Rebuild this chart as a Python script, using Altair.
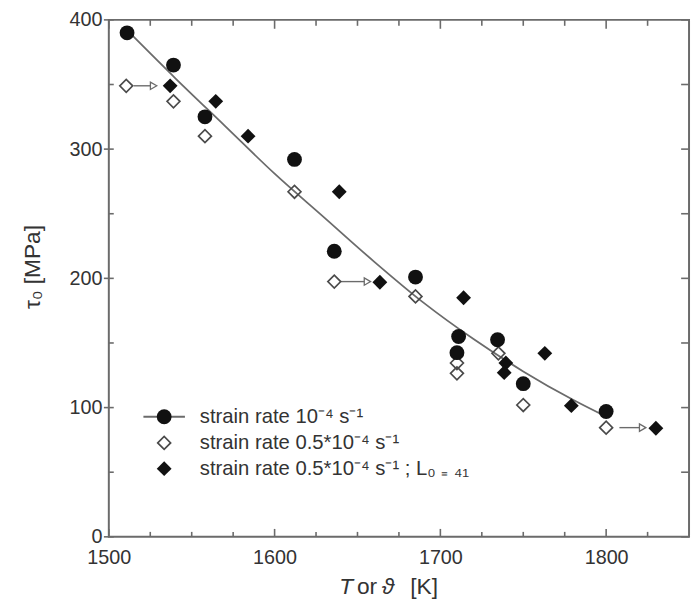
import altair as alt
import pandas as pd

# ---- data ----
circ_T = [1511, 1539, 1558, 1612, 1636, 1685, 1711, 1710, 1734.5, 1750, 1800]
circ_tau = [390, 365, 325, 292, 221, 201, 155, 142.5, 152.5, 118.5, 97]

open_T = [1510.5, 1539, 1558, 1612, 1636, 1685, 1710, 1710, 1735, 1750, 1800]
open_tau = [349, 337, 310, 267, 197.5, 186, 134.5, 126.5, 142, 102, 84.5]

fill_T = [1537, 1564.5, 1584, 1639, 1663.5, 1714, 1739.5, 1738.5, 1763, 1779, 1830]
fill_tau = [349, 337, 310, 267, 197, 185, 134.5, 127, 142, 101.5, 84]

arrow_from_T = [1515, 1640, 1808]
arrow_to_T = [1527, 1656, 1822]
arrow_tau = [349, 197.5, 84.5]

fit_T = [1511, 1540, 1570, 1600, 1630, 1660, 1690, 1720, 1750, 1780, 1800]
fit_tau = [392, 355, 318, 281, 247, 213, 181, 153, 128, 106, 93]

x_major = [1500, 1600, 1700, 1800]
x_minor = [1525, 1550, 1575, 1625, 1650, 1675, 1725, 1750, 1775, 1825]
y_major = [0, 100, 200, 300, 400]
y_minor = [50, 150, 250, 350]

leg_labels = [
    "strain rate 10\u207b\u2074   s\u207b\u00b9",
    "strain rate 0.5*10\u207b\u2074 s\u207b\u00b9",
    "strain rate 0.5*10\u207b\u2074 s\u207b\u00b9 ; L\u2080 \u208c \u2084\u2081",
]

# ---- styling ----
W, H = 587, 523
FONT = "Liberation Sans"
TXT = "#333333"
GRAY = "#6b6b6b"
DARK = "#111111"

xs = alt.Scale(domain=[1500, 1850], nice=False, zero=False)
ys = alt.Scale(domain=[0, 400], nice=False, zero=False)

x_axis = alt.Axis(values=x_major, format="d", title=None, grid=False, ticks=False, domain=False,
                  tickSize=0, labelFontSize=20, labelFont=FONT, labelColor=TXT, labelPadding=11,
                  labelFlush=False, labelOverlap=False)
y_axis = alt.Axis(values=y_major, format="d", title=None, grid=False, ticks=False, domain=False,
                  tickSize=0, labelFontSize=20, labelFont=FONT, labelColor=TXT, labelPadding=7,
                  labelFlush=False, labelOverlap=False)


def X(field):
    return alt.X(f"{field}:Q", scale=xs, axis=x_axis)


def Y(field):
    return alt.Y(f"{field}:Q", scale=ys, axis=y_axis)


fit_df = pd.DataFrame({"T": fit_T, "tau": fit_tau})
circ_df = pd.DataFrame({"T": circ_T, "tau": circ_tau})
open_df = pd.DataFrame({"T": open_T, "tau": open_tau})
fill_df = pd.DataFrame({"T": fill_T, "tau": fill_tau})
arr_df = pd.DataFrame({"T": arrow_from_T, "T1": arrow_to_T, "tau": arrow_tau})

fit = alt.Chart(fit_df).mark_line(color=GRAY, strokeWidth=1.8, interpolate="monotone").encode(
    x=X("T"), y=Y("tau"))

arr_line = alt.Chart(arr_df).mark_rule(color=GRAY, strokeWidth=1.4).encode(
    x=X("T"), x2="T1:Q", y=Y("tau"))
arr_head = alt.Chart(arr_df).mark_point(shape="triangle-right", filled=True, fill="white",
                                        stroke=GRAY, strokeWidth=1.3, size=55, opacity=1).encode(
    x=X("T1"), y=Y("tau"))

opn = alt.Chart(open_df).mark_point(shape="diamond", filled=False, color="#4a4a4a",
                                    strokeWidth=1.7, size=170, opacity=1).encode(
    x=X("T"), y=Y("tau"))
fil = alt.Chart(fill_df).mark_point(shape="diamond", filled=True, color=DARK,
                                    size=225, opacity=1).encode(
    x=X("T"), y=Y("tau"))
circ = alt.Chart(circ_df).mark_point(shape="circle", filled=True, color=DARK,
                                     size=225, opacity=1).encode(
    x=X("T"), y=Y("tau"))

# ---- frame ticks ----
xmaj_df = pd.DataFrame({"v": x_major})
xmin_df = pd.DataFrame({"v": x_minor})
ymaj_df = pd.DataFrame({"v": y_major})
ymin_df = pd.DataFrame({"v": y_minor})
tick_layers = []
for df, ln in [(xmaj_df, 8), (xmin_df, 5)]:
    tick_layers.append(alt.Chart(df).mark_rule(color=GRAY, strokeWidth=1.6).encode(
        x=X("v"), y=alt.value(H), y2=alt.value(H - ln)))
    tick_layers.append(alt.Chart(df).mark_rule(color=GRAY, strokeWidth=1.6).encode(
        x=X("v"), y=alt.value(0), y2=alt.value(ln + 1)))
tick_layers.append(alt.Chart(ymaj_df).mark_rule(color=GRAY, strokeWidth=1.6).encode(
    y=Y("v"), x=alt.value(-5), x2=alt.value(5)))
tick_layers.append(alt.Chart(ymin_df).mark_rule(color=GRAY, strokeWidth=1.6).encode(
    y=Y("v"), x=alt.value(0), x2=alt.value(5)))
tick_layers.append(alt.Chart(ymaj_df).mark_rule(color=GRAY, strokeWidth=1.6).encode(
    y=Y("v"), x=alt.value(W), x2=alt.value(W - 8)))
tick_layers.append(alt.Chart(ymin_df).mark_rule(color=GRAY, strokeWidth=1.6).encode(
    y=Y("v"), x=alt.value(W), x2=alt.value(W - 8)))

# ---- legend (drawn by hand) ----
one = pd.DataFrame({"k": [0]})
ROWS = [401.5, 428, 454]
MX = 56
leg = [
    alt.Chart(one).mark_rule(color=GRAY, strokeWidth=2).encode(
        x=alt.value(35), x2=alt.value(77), y=alt.value(ROWS[0])),
    alt.Chart(one).mark_point(shape="circle", filled=True, color=DARK, size=225, opacity=1).encode(
        x=alt.value(MX), y=alt.value(ROWS[0])),
    alt.Chart(one).mark_point(shape="diamond", filled=False, color="#4a4a4a", strokeWidth=1.7,
                              size=170, opacity=1).encode(x=alt.value(MX), y=alt.value(ROWS[1])),
    alt.Chart(one).mark_point(shape="diamond", filled=True, color=DARK, size=225, opacity=1).encode(
        x=alt.value(MX), y=alt.value(ROWS[2])),
]
for lab, ry in zip(leg_labels, ROWS):
    leg.append(alt.Chart(one).mark_text(text=lab, align="left", baseline="middle", font=FONT,
                                        fontSize=20.5, color=TXT).encode(
        x=alt.value(92), y=alt.value(ry)))

# ---- axis titles (drawn by hand for italics) ----
TY = 574
TX = 233
titles = [
    alt.Chart(one).mark_text(text="T", align="left", baseline="middle", font=FONT, fontSize=23,
                             fontStyle="italic", color=TXT).encode(x=alt.value(TX), y=alt.value(TY)),
    alt.Chart(one).mark_text(text="or", align="left", baseline="middle", font=FONT, fontSize=23,
                             color=TXT).encode(x=alt.value(TX + 18), y=alt.value(TY)),
    alt.Chart(one).mark_text(text="\u03d1", align="left", baseline="middle", font=FONT, fontSize=23,
                             fontStyle="italic", color=TXT).encode(x=alt.value(TX + 43), y=alt.value(TY)),
    alt.Chart(one).mark_text(text="[K]", align="left", baseline="middle", font=FONT, fontSize=23,
                             color=TXT).encode(x=alt.value(TX + 72), y=alt.value(TY)),
    alt.Chart(one).mark_text(text="\u03c4\u2080 [MPa]", align="center", baseline="middle", font=FONT,
                             fontSize=23, angle=270, color=TXT).encode(
        x=alt.value(-77), y=alt.value(250)),
]

chart = alt.layer(
    fit, arr_line, arr_head, opn, fil, circ, *tick_layers, *leg, *titles
).properties(
    width=W, height=H,
    autosize=alt.AutoSizeParams(type="none"),
    padding={"left": 102, "top": 8.5, "right": 3, "bottom": 70},
).configure_view(
    stroke=GRAY, strokeWidth=2
)

chart.save("out.html", embed_options={"renderer": "svg", "actions": False})
